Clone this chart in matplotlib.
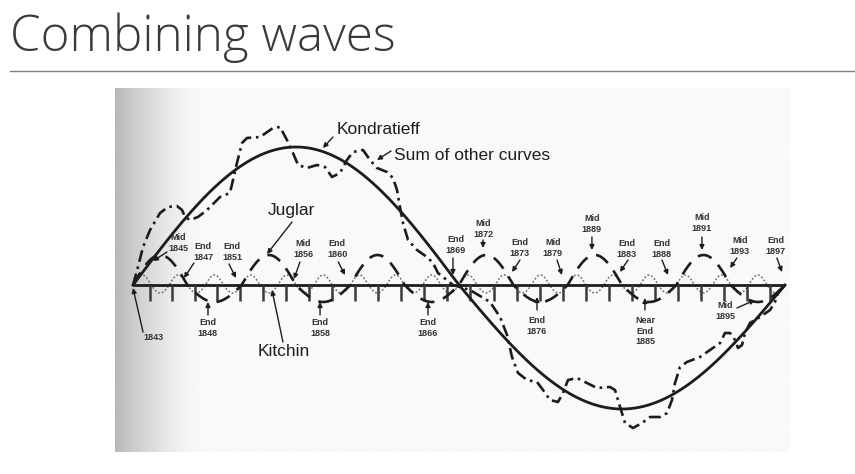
import numpy as np
import matplotlib
matplotlib.use("Agg")
import matplotlib.pyplot as plt
from matplotlib.lines import Line2D

# ---------------- data ----------------
start_year, end_year = 1843, 1897
cycle_names = ["Kondratieff", "Juglar", "Kitchin"]
cycle_periods = [54.0, 9.0, 3.0]          # years
cycle_amp_up = [138, 30, 10]               # height above the axis
cycle_amp_down = [124, 17, 8]              # depth below the axis

tick_years = [1844.41, 1846.23, 1848.13, 1849.96, 1851.86, 1853.77, 1855.67,
              1857.58, 1859.48, 1861.39, 1863.29, 1865.20, 1867.10, 1869.01,
              1870.91, 1872.90, 1874.80, 1876.71, 1878.61, 1880.52, 1882.42,
              1884.33, 1886.23, 1888.14, 1890.04, 1891.95, 1893.85, 1895.76]

sum_years = [1843.00, 1843.41, 1843.83, 1844.41, 1845.24, 1845.90, 1846.64,
             1847.06, 1847.31, 1847.72, 1848.38, 1849.13, 1850.21, 1851.03,
             1851.28, 1851.61, 1852.03, 1852.44, 1853.52, 1854.60, 1855.18,
             1855.75, 1856.25, 1856.67, 1857.41, 1858.24, 1858.90, 1859.48,
             1860.14, 1860.72, 1861.22, 1862.05, 1862.63, 1863.21, 1864.04,
             1864.53, 1864.87, 1865.11, 1865.36, 1865.78, 1866.52, 1867.35,
             1867.85, 1868.26, 1869.50, 1870.91, 1872.57, 1873.40, 1873.98,
             1874.39, 1874.89, 1875.63, 1876.46, 1876.96, 1877.54, 1878.20,
             1878.61, 1879.03, 1879.77, 1880.60, 1881.43, 1882.51, 1882.92,
             1883.34, 1883.75, 1884.41, 1885.16, 1885.82, 1886.65, 1887.23,
             1887.64, 1887.89, 1888.30, 1888.88, 1889.96, 1890.79, 1891.62,
             1892.03, 1892.45, 1892.86, 1893.11, 1893.44, 1893.69, 1894.10,
             1894.93, 1895.76, 1896.17, 1896.42, 1897.00]
sum_vals = [0, 18, 38, 55, 72, 78, 79,
            75, 68, 65, 68, 75, 88, 92,
            105, 122, 142, 147, 148, 157, 158,
            145, 132, 120, 117, 120, 118, 108,
            112, 125, 133, 135, 125, 117, 113,
            107, 95, 78, 62, 45, 35, 28,
            22, 12, 0, -5, -17, -32, -50,
            -72, -88, -95, -97, -105, -115, -117,
            -108, -95, -93, -98, -103, -102, -105,
            -122, -138, -143, -138, -132, -132, -128,
            -115, -98, -82, -77, -72, -65, -58,
            -48, -48, -55, -63, -60, -48, -38,
            -32, -25, -17, -8, 0]

# event labels: text, text centre (year, value), arrow tail, arrow head
event_labels = ["Mid\n1845", "End\n1847", "End\n1851", "Mid\n1856", "End\n1860",
                "End\n1869", "Mid\n1872", "End\n1873", "Mid\n1879", "Mid\n1889",
                "End\n1883", "End\n1888", "Mid\n1891", "Mid\n1893", "End\n1897",
                "1843", "End\n1848", "End\n1858", "End\n1866", "End\n1876",
                "Near\nEnd\n1885", "Mid\n1895"]
event_text_pos = [(1846.73, 42), (1848.80, 33), (1851.20, 33), (1857.08, 36),
                  (1859.90, 36), (1869.75, 40), (1871.99, 56), (1875.05, 37),
                  (1877.78, 37), (1881.01, 61), (1883.91, 36), (1886.81, 36),
                  (1890.12, 62), (1893.27, 39), (1896.25, 39), (1844.66, -53),
                  (1849.21, -43), (1858.49, -43), (1867.43, -43), (1876.46, -41),
                  (1885.40, -46), (1892.03, -26)]
event_arrow_tail = [(1845.82, 33), (1848.05, 22), (1850.95, 21), (1856.83, 23),
                    (1860.00, 23), (1869.50, 27), (1871.99, 45), (1875.05, 25),
                    (1878.12, 25), (1881.01, 48), (1884.00, 25), (1886.81, 25),
                    (1890.12, 48), (1893.02, 27), (1896.33, 27), (1843.83, -47),
                    (1849.21, -30), (1858.49, -30), (1867.43, -30), (1876.46, -25),
                    (1885.40, -25), (1893.02, -23)]
event_arrow_head = [(1844.66, 24), (1847.22, 7), (1851.53, 7), (1856.33, 6),
                    (1860.56, 10), (1869.50, 10), (1871.99, 37), (1874.39, 13),
                    (1878.53, 10), (1881.01, 35), (1883.33, 13), (1887.31, 10),
                    (1890.12, 35), (1892.45, 17), (1896.75, 13), (1843.00, -3),
                    (1849.21, -17), (1858.49, -17), (1867.43, -17), (1876.46, -12),
                    (1885.40, -13), (1894.51, -15)]

# curve name labels: text, anchor position, ha, arrow tail, arrow head
name_labels = ["Kondratieff", "Sum of other curves", "Juglar", "Kitchin"]
name_pos = [(1859.90, 155), (1864.62, 130), (1856.09, 75), (1855.51, -67)]
name_ha = ["left", "left", "center", "center"]
name_arrow_tail = [(1859.56, 148), (1864.37, 134), (1856.17, 63), (1855.42, -57)]
name_arrow_head = [(1858.73, 137), (1863.21, 125), (1854.10, 31), (1854.51, -5)]

title = "Combining waves"

# ---------------- figure ----------------
W, H = 855, 474
fig = plt.figure(figsize=(W / 100, H / 100), dpi=100)
fig.patch.set_facecolor("white")

# title and rule
fig.text(10 / W, 1 - 51 / H, title, fontsize=35.5, color="#3a3a3a",
         family=["Open Sans", "Lato", "DejaVu Sans"], fontweight="light",
         ha="left", va="baseline")
fig.add_artist(Line2D([10 / W, 1.0], [1 - 70.5 / H, 1 - 70.5 / H],
                      color="#7f7f7f", lw=1.0, transform=fig.transFigure))

# chart axes (scanned picture area)
ax = fig.add_axes([115 / W, 22 / H, 675 / W, 364 / H])
px_year = 652 / (end_year - start_year)
x0 = start_year - 18 / px_year
x1 = end_year + 5 / px_year
y0, y1 = -167, 197
ax.set_xlim(x0, x1)
ax.set_ylim(y0, y1)
ax.axis("off")

# paper background with darker left margin of the scan
grad = np.linspace(0, 1, 400)
shade = 0.975 - 0.25 * np.clip(1 - grad / 0.13, 0, 1) ** 1.5
ax.imshow(shade[np.newaxis, :], extent=(x0, x1, y0, y1), aspect="auto",
          cmap="gray", vmin=0, vmax=1, zorder=0, interpolation="bilinear")

ink = "#1c1c1c"
years = np.linspace(start_year, end_year, 2000)


def cycle(i):
    s = np.sin(2 * np.pi * (years - start_year) / cycle_periods[i])
    return np.where(s >= 0, cycle_amp_up[i] * s, cycle_amp_down[i] * s)


# axis and ticks
ax.plot([start_year, end_year], [0, 0], color=ink, lw=2.0, zorder=3,
        solid_capstyle="butt")
ax.vlines(tick_years, -16, 0, color="#3a3a3a", lw=1.8, zorder=3)

# Kitchin (dotted), Juglar (dashed), Kondratieff (solid)
ax.plot(years, cycle(2), color="#707070", lw=1.1, ls=(0, (1.2, 1.3)), zorder=2)
ax.plot(years, cycle(1), color=ink, lw=1.9, ls=(0, (5.5, 3.5)), zorder=4,
        dash_capstyle="butt")
ax.plot(years, cycle(0), color=ink, lw=2.0, zorder=4)

# Sum of other curves (dash-dot)
ax.plot(sum_years, sum_vals, color=ink, lw=1.9, ls=(0, (4.5, 1.8, 1.0, 1.8)),
        zorder=4)

arrow_kw = dict(arrowstyle="-|>", lw=1.0, color=ink, mutation_scale=7,
                shrinkA=0, shrinkB=0)

for txt, pos, tail, head in zip(event_labels, event_text_pos,
                                event_arrow_tail, event_arrow_head):
    ax.text(pos[0], pos[1], txt, fontsize=6.5, color="#333333",
            fontweight="bold",
            family=["Liberation Sans", "DejaVu Sans"], ha="center",
            va="center", linespacing=1.15, zorder=6)
    ax.annotate("", xy=head, xytext=tail, arrowprops=arrow_kw, zorder=6)

for txt, pos, ha, tail, head in zip(name_labels, name_pos, name_ha,
                                    name_arrow_tail, name_arrow_head):
    ax.text(pos[0], pos[1], txt, fontsize=12.5, color="#1e1e1e",
            family=["Liberation Sans", "DejaVu Sans"], ha=ha,
            va="center", zorder=6)
    ax.annotate("", xy=head, xytext=tail, arrowprops=arrow_kw, zorder=6)

fig.savefig("out.png", dpi=100, facecolor="white")
